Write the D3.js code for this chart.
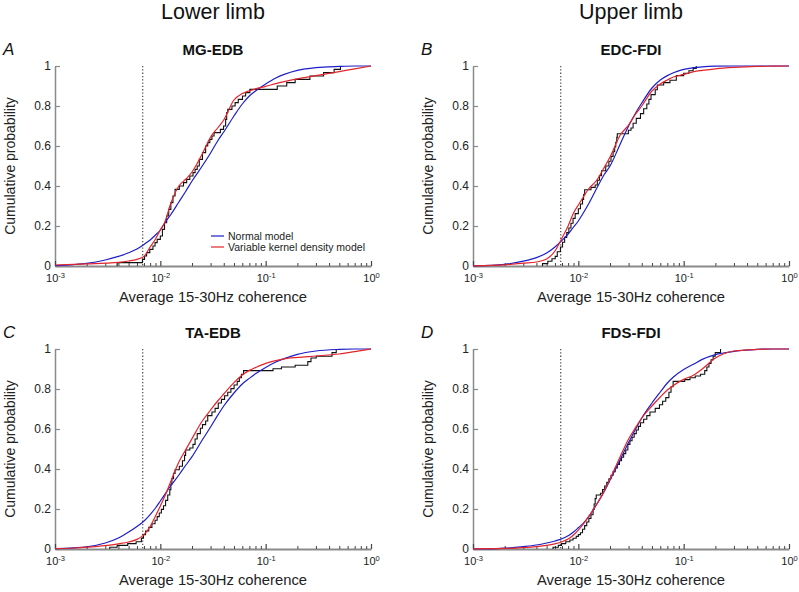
<!DOCTYPE html>
<html>
<head>
<meta charset="utf-8">
<script src="https://cdn.jsdelivr.net/npm/d3@7"></script>
<style>
  body { margin: 0; background: #fff; }
  svg { font-family: "Liberation Sans", Arial, sans-serif; }
</style>
</head>
<body>
<svg id="chart" width="799" height="592"></svg>
<script>
const GRID = [0.001, 0.0015, 0.002, 0.003, 0.004, 0.005, 0.006, 0.007, 0.008, 0.009,
  0.01, 0.011, 0.0125, 0.015, 0.0175, 0.02, 0.025, 0.03, 0.035, 0.04, 0.05, 0.06,
  0.07, 0.08, 0.1, 0.125, 0.15, 0.2, 0.3, 0.5, 0.7, 1];

// MG-EDB
const MG_NORMAL = [0.002, 0.007, 0.013, 0.03, 0.048, 0.066, 0.085, 0.108, 0.13, 0.155,
  0.18, 0.215, 0.255, 0.32, 0.375, 0.425, 0.5, 0.565, 0.625, 0.67, 0.75, 0.81,
  0.85, 0.875, 0.91, 0.94, 0.958, 0.978, 0.992, 0.998, 1, 1];
const MG_KERNEL = [0.005, 0.008, 0.011, 0.014, 0.018, 0.025, 0.033, 0.048, 0.095, 0.135,
  0.18, 0.218, 0.31, 0.4, 0.435, 0.47, 0.56, 0.645, 0.69, 0.73, 0.83, 0.862,
  0.876, 0.886, 0.898, 0.912, 0.922, 0.936, 0.952, 0.972, 0.986, 1];
const MG_SAMPLES = [0.00389, 0.00676, 0.00708, 0.00741, 0.00794, 0.00851, 0.00891, 0.00933,
  0.0100, 0.01047, 0.01096, 0.01148, 0.01202, 0.01259, 0.01318, 0.0138, 0.01514, 0.0166,
  0.01778, 0.01905, 0.02042, 0.02138, 0.02239, 0.02344, 0.02512, 0.02692, 0.02818, 0.02951,
  0.0309, 0.03236, 0.03715, 0.03981, 0.04169, 0.04266, 0.04365, 0.04786, 0.05129, 0.05495,
  0.06026, 0.06457, 0.07079, 0.1288, 0.1585, 0.1905, 0.263, 0.3548, 0.4467, 0.5129];
const MG_CUM = [0.017, 0.033, 0.05, 0.067, 0.083, 0.1, 0.117, 0.133, 0.15, 0.183, 0.217,
  0.25, 0.283, 0.317, 0.35, 0.383, 0.4, 0.417, 0.433, 0.45, 0.467, 0.483, 0.5, 0.533,
  0.567, 0.6, 0.617, 0.633, 0.65, 0.667, 0.683, 0.7, 0.733, 0.767, 0.783, 0.8, 0.817,
  0.833, 0.85, 0.867, 0.883, 0.9, 0.917, 0.933, 0.95, 0.967, 0.983, 1];

// EDC-FDI
const EDC_NORMAL = [0.001, 0.003, 0.008, 0.024, 0.042, 0.065, 0.095, 0.128, 0.16, 0.195,
  0.225, 0.26, 0.31, 0.39, 0.455, 0.5, 0.61, 0.7, 0.765, 0.815, 0.89, 0.93,
  0.952, 0.966, 0.983, 0.992, 0.996, 0.999, 1, 1, 1, 1];
const EDC_KERNEL = [0.001, 0.003, 0.006, 0.014, 0.02, 0.035, 0.075, 0.14, 0.2, 0.265,
  0.305, 0.34, 0.385, 0.43, 0.49, 0.545, 0.655, 0.705, 0.76, 0.8, 0.875, 0.91,
  0.93, 0.945, 0.958, 0.972, 0.978, 0.986, 0.993, 0.998, 0.999, 1];
const EDC_SAMPLES = [0.00457, 0.00513, 0.00562, 0.00603, 0.00631, 0.00676, 0.00708, 0.00741,
  0.00776, 0.00813, 0.00851, 0.00891, 0.00933, 0.0100, 0.01047, 0.01096, 0.01122, 0.01148,
  0.01318, 0.01445, 0.01514, 0.01585, 0.0166, 0.0182, 0.0195, 0.02042, 0.02138, 0.02213,
  0.02265, 0.02317, 0.02344, 0.02985, 0.03162, 0.03311, 0.03548, 0.0389, 0.04169, 0.04467,
  0.04677, 0.04898, 0.0537, 0.05623, 0.06457, 0.07413, 0.08511, 0.1, 0.1122, 0.123, 0.1318];
const EDC_CUM = [0.012, 0.024, 0.036, 0.048, 0.071, 0.095, 0.119, 0.143, 0.167, 0.19,
  0.214, 0.238, 0.262, 0.286, 0.31, 0.333, 0.357, 0.381, 0.393, 0.405, 0.429, 0.452,
  0.476, 0.5, 0.524, 0.548, 0.571, 0.595, 0.619, 0.643, 0.661, 0.679, 0.69, 0.714,
  0.738, 0.762, 0.786, 0.81, 0.833, 0.857, 0.881, 0.905, 0.917, 0.929, 0.952, 0.964,
  0.976, 0.988, 1];

// TA-EDB
const TA_NORMAL = [0.002, 0.006, 0.011, 0.03, 0.055, 0.085, 0.113, 0.14, 0.172, 0.205,
  0.24, 0.272, 0.315, 0.37, 0.42, 0.462, 0.545, 0.61, 0.668, 0.715, 0.78, 0.825,
  0.853, 0.876, 0.908, 0.935, 0.952, 0.973, 0.99, 0.998, 1, 1];
const TA_KERNEL = [0.002, 0.005, 0.009, 0.017, 0.026, 0.035, 0.048, 0.072, 0.112, 0.165,
  0.215, 0.262, 0.335, 0.435, 0.498, 0.552, 0.64, 0.695, 0.74, 0.775, 0.832, 0.87,
  0.893, 0.907, 0.928, 0.942, 0.951, 0.958, 0.965, 0.975, 0.987, 1];
const TA_SAMPLES = [0.00331, 0.00389, 0.0049, 0.00589, 0.00661, 0.00692, 0.00724, 0.00776,
  0.00832, 0.00891, 0.00933, 0.00977, 0.01023, 0.01072, 0.01122, 0.01175, 0.0123, 0.01259,
  0.01288, 0.01334, 0.0138, 0.01514, 0.01622, 0.01698, 0.01738, 0.01905, 0.02042, 0.02138,
  0.02239, 0.02399, 0.02512, 0.02692, 0.02818, 0.0309, 0.03311, 0.03548, 0.03802, 0.04074,
  0.04365, 0.04677, 0.05012, 0.0537, 0.05623, 0.05888, 0.06166, 0.1175, 0.1413, 0.1905,
  0.2512, 0.2692, 0.302, 0.4266, 0.4677];
const TA_CUM = [0.009, 0.018, 0.027, 0.036, 0.054, 0.072, 0.09, 0.108, 0.126, 0.144,
  0.162, 0.18, 0.198, 0.216, 0.243, 0.27, 0.297, 0.324, 0.351, 0.378, 0.396, 0.414,
  0.441, 0.468, 0.495, 0.505, 0.523, 0.55, 0.577, 0.604, 0.622, 0.64, 0.667, 0.685,
  0.703, 0.73, 0.748, 0.766, 0.784, 0.802, 0.82, 0.838, 0.856, 0.874, 0.892, 0.901,
  0.91, 0.919, 0.937, 0.955, 0.964, 0.982, 1];

// FDS-FDI
const FDS_NORMAL = [0, 0.001, 0.004, 0.012, 0.02, 0.03, 0.04, 0.051, 0.066, 0.085,
  0.106, 0.126, 0.16, 0.225, 0.285, 0.345, 0.448, 0.532, 0.6, 0.655, 0.73, 0.785,
  0.83, 0.86, 0.897, 0.925, 0.948, 0.972, 0.988, 0.998, 1, 1];
const FDS_KERNEL = [0.001, 0.002, 0.003, 0.007, 0.012, 0.018, 0.026, 0.036, 0.05, 0.07,
  0.094, 0.12, 0.162, 0.225, 0.287, 0.35, 0.462, 0.55, 0.608, 0.655, 0.715, 0.76,
  0.795, 0.818, 0.848, 0.87, 0.9, 0.955, 0.99, 0.998, 1, 1];
const FDS_SAMPLES = [0.00575, 0.00646, 0.00692, 0.00759, 0.00832, 0.00891, 0.00955, 0.0100,
  0.01047, 0.01096, 0.01148, 0.01202, 0.01259, 0.01318, 0.0138, 0.01413, 0.01445, 0.01479,
  0.01622, 0.01698, 0.01778, 0.01862, 0.0195, 0.02042, 0.02138, 0.02239, 0.02344, 0.02455,
  0.0257, 0.02692, 0.02818, 0.02951, 0.0309, 0.03236, 0.03388, 0.03548, 0.03715, 0.0389,
  0.04169, 0.04467, 0.04786, 0.0537, 0.05888, 0.0631, 0.06761, 0.07244, 0.07586, 0.07943,
  0.1023, 0.1148, 0.1288, 0.1445, 0.1585, 0.166, 0.1738, 0.182, 0.1905, 0.1995, 0.2239];
const FDS_CUM = [0.009, 0.018, 0.027, 0.036, 0.045, 0.054, 0.063, 0.072, 0.081, 0.099,
  0.117, 0.135, 0.153, 0.171, 0.198, 0.225, 0.252, 0.27, 0.279, 0.297, 0.315, 0.333,
  0.351, 0.369, 0.387, 0.405, 0.423, 0.441, 0.459, 0.477, 0.495, 0.523, 0.541, 0.559,
  0.577, 0.595, 0.613, 0.631, 0.649, 0.667, 0.685, 0.703, 0.721, 0.739, 0.757, 0.784,
  0.811, 0.838, 0.847, 0.856, 0.865, 0.874, 0.892, 0.91, 0.928, 0.946, 0.964, 0.982, 1];

const THRESHOLD = 0.0068;   // dotted significance line
const Y_TICKS = [0, 0.2, 0.4, 0.6, 0.8, 1];
const X_DECADES = [-3, -2, -1, 0];
const COLUMN_TITLES = ["Lower limb", "Upper limb"];
const LEGEND = ["Normal model", "Variable kernel density model"];

const BLUE = "#1d1dc9";
const RED = "#e2252c";
const AXIS_GREY = "#8a8a8a";

// layout
const COLS = [{ left: 55, right: 371, cx: 213 }, { left: 473, right: 789, cx: 631 }];
const ROWS = [{ top: 66, bottom: 266 }, { top: 349, bottom: 549 }];

const panels = [
  { letter: "A", title: "MG-EDB", col: 0, row: 0, normal: MG_NORMAL, kernel: MG_KERNEL, samples: MG_SAMPLES, cum: MG_CUM, legend: true },
  { letter: "B", title: "EDC-FDI", col: 1, row: 0, normal: EDC_NORMAL, kernel: EDC_KERNEL, samples: EDC_SAMPLES, cum: EDC_CUM },
  { letter: "C", title: "TA-EDB", col: 0, row: 1, normal: TA_NORMAL, kernel: TA_KERNEL, samples: TA_SAMPLES, cum: TA_CUM },
  { letter: "D", title: "FDS-FDI", col: 1, row: 1, normal: FDS_NORMAL, kernel: FDS_KERNEL, samples: FDS_SAMPLES, cum: FDS_CUM }
];

const svg = d3.select("#chart");

// column headings
svg.selectAll(".col-title")
  .data(COLUMN_TITLES)
  .enter()
  .append("text")
  .attr("class", "col-title")
  .attr("x", (d, i) => COLS[i].cx)
  .attr("y", 19)
  .attr("text-anchor", "middle")
  .attr("font-size", "21.5px")
  .attr("fill", "#111")
  .text(d => d);

const minorTicks = [];
[-3, -2, -1].forEach(e => {
  for (let m = 2; m <= 9; m++) minorTicks.push(m * Math.pow(10, e));
});

function drawPanel(p) {
  const c = COLS[p.col], r = ROWS[p.row];
  const x = d3.scaleLog().domain([1e-3, 1]).range([c.left, c.right]);
  const y = d3.scaleLinear().domain([0, 1]).range([r.bottom, r.top]);
  const g = svg.append("g");

  // panel letter + title
  g.append("text")
    .attr("x", c.left - 52)
    .attr("y", r.top - 11)
    .attr("font-size", "17px")
    .attr("font-style", "italic")
    .attr("fill", "#111")
    .text(p.letter);
  g.append("text")
    .attr("x", c.cx)
    .attr("y", r.top - 11)
    .attr("text-anchor", "middle")
    .attr("font-size", "15px")
    .attr("font-weight", "bold")
    .attr("fill", "#111")
    .text(p.title);

  // y axis
  const yAxis = g.append("g")
    .attr("transform", `translate(${c.left},0)`)
    .call(d3.axisLeft(y).tickValues(Y_TICKS).tickSize(-5).tickSizeOuter(0).tickPadding(4)
      .tickFormat(d => d === 0 || d === 1 ? String(d) : d.toFixed(1)));
  yAxis.select(".domain").attr("stroke", AXIS_GREY).attr("stroke-width", 1.5);
  yAxis.selectAll(".tick line").attr("stroke", AXIS_GREY).attr("stroke-width", 1.2);
  yAxis.selectAll(".tick text").attr("font-size", "12px").attr("fill", "#222")
    .attr("font-family", "Liberation Sans, Arial, sans-serif");

  // x axis, major decades
  const xAxis = g.append("g")
    .attr("transform", `translate(0,${r.bottom})`)
    .call(d3.axisBottom(x).tickValues(X_DECADES.map(e => Math.pow(10, e)))
      .tickSize(-5).tickSizeOuter(0).tickPadding(8).tickFormat(""));
  xAxis.select(".domain").attr("stroke", AXIS_GREY).attr("stroke-width", 1.8);
  xAxis.selectAll(".tick line").attr("stroke", "#444").attr("stroke-width", 1.2);
  const lab = xAxis.selectAll(".tick text")
    .attr("font-size", "11px").attr("fill", "#222")
    .attr("font-family", "Liberation Sans, Arial, sans-serif");
  lab.each(function (d) {
    const t = d3.select(this);
    t.append("tspan").text("10");
    t.append("tspan").attr("dy", "-4").attr("font-size", "7.5px")
      .text(String(Math.round(Math.log10(d))));
  });

  // x axis, minor ticks
  const xMinor = g.append("g")
    .attr("transform", `translate(0,${r.bottom})`)
    .call(d3.axisBottom(x).tickValues(minorTicks).tickSize(-3).tickSizeOuter(0).tickFormat(""));
  xMinor.select(".domain").remove();
  xMinor.selectAll(".tick line").attr("stroke", "#444").attr("stroke-width", 1);

  // axis titles
  g.append("text")
    .attr("transform", `translate(${c.left - 40},${(r.top + r.bottom) / 2}) rotate(-90)`)
    .attr("text-anchor", "middle")
    .attr("font-size", "14px")
    .attr("fill", "#222")
    .text("Cumulative probability");
  g.append("text")
    .attr("x", c.cx)
    .attr("y", r.bottom + 36)
    .attr("text-anchor", "middle")
    .attr("font-size", "14.8px")
    .attr("fill", "#222")
    .text("Average 15-30Hz coherence");

  // dotted threshold
  g.append("line")
    .attr("x1", x(THRESHOLD)).attr("x2", x(THRESHOLD))
    .attr("y1", y(1)).attr("y2", y(0))
    .attr("stroke", "#555")
    .attr("stroke-width", 1.3)
    .attr("stroke-dasharray", "1.3,2");

  // empirical cumulative distribution
  const steps = [[p.samples[0], 0]].concat(d3.zip(p.samples, p.cum));
  g.append("path")
    .datum(steps)
    .attr("fill", "none")
    .attr("stroke", "#111")
    .attr("stroke-width", 1.1)
    .attr("d", d3.line().x(d => x(d[0])).y(d => y(d[1])).curve(d3.curveStepAfter));

  const smooth = d3.line().x(d => x(d[0])).y(d => y(d[1])).curve(d3.curveMonotoneX);
  g.append("path")
    .datum(d3.zip(GRID, p.normal))
    .attr("fill", "none")
    .attr("stroke", BLUE)
    .attr("stroke-width", 1.2)
    .attr("d", smooth);
  g.append("path")
    .datum(d3.zip(GRID, p.kernel))
    .attr("fill", "none")
    .attr("stroke", RED)
    .attr("stroke-width", 1.2)
    .attr("d", smooth);

  if (p.legend) {
    const lg = g.append("g").attr("transform", `translate(${c.left + 156},${r.bottom - 30})`);
    lg.selectAll("line")
      .data(LEGEND)
      .enter()
      .append("line")
      .attr("x1", 0).attr("x2", 13)
      .attr("y1", (d, i) => i * 11).attr("y2", (d, i) => i * 11)
      .attr("stroke", (d, i) => i === 0 ? BLUE : RED)
      .attr("stroke-width", 1.2);
    lg.selectAll("text")
      .data(LEGEND)
      .enter()
      .append("text")
      .attr("x", 17)
      .attr("y", (d, i) => i * 11 + 3.5)
      .attr("font-size", "10.5px")
      .attr("fill", "#222")
      .text(d => d);
  }
}

panels.forEach(drawPanel);
</script>
</body>
</html>
